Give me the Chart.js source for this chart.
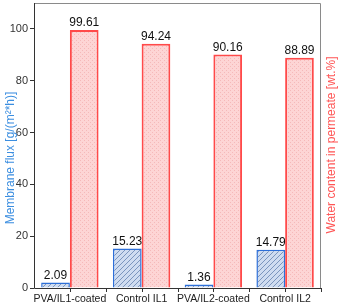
<!DOCTYPE html>
<html>
<head>
<meta charset="utf-8">
<script src="https://cdn.jsdelivr.net/npm/chart.js@4.4.0/dist/chart.umd.min.js"></script>
<style>
  html, body { margin: 0; padding: 0; background: #fff; }
  #wrap { width: 342px; height: 305px; }
</style>
</head>
<body>
<div id="wrap"><canvas id="chart"></canvas></div>
<script>
// data
const categories = ['PVA/IL1-coated', 'Control IL1', 'PVA/IL2-coated', 'Control IL2'];
const fluxValues = [2.09, 15.23, 1.36, 14.79];
const waterValues = [99.61, 94.24, 90.16, 88.89];
const yTicks = [0, 20, 40, 60, 80, 100];

// hatched blue fill
function hatchPattern() {
  const c = document.createElement('canvas');
  c.width = 5; c.height = 5;
  const g = c.getContext('2d');
  g.fillStyle = '#cfdcf0';
  g.fillRect(0, 0, 5, 5);
  g.strokeStyle = '#6683b0';
  g.lineWidth = 0.8;
  g.beginPath();
  g.moveTo(0, 5); g.lineTo(5, 0);
  g.moveTo(-2.5, 2.5); g.lineTo(2.5, -2.5);
  g.moveTo(2.5, 7.5); g.lineTo(7.5, 2.5);
  g.stroke();
  return g.createPattern(c, 'repeat');
}

// dotted pink fill
function dotPattern() {
  const c = document.createElement('canvas');
  c.width = 4; c.height = 4;
  const g = c.getContext('2d');
  g.fillStyle = '#fdd5d5';
  g.fillRect(0, 0, 4, 4);
  g.fillStyle = '#f5b9b9';
  g.fillRect(0, 0, 1, 1);
  g.fillRect(2, 2, 1, 1);
  return g.createPattern(c, 'repeat');
}

const extras = {
  id: 'extras',
  afterDatasetsDraw(chart) {
    const ctx = chart.ctx;
    const a = chart.chartArea;
    ctx.save();
    // value labels
    ctx.font = '12px "Liberation Sans", Arial, sans-serif';
    ctx.fillStyle = '#111';
    ctx.textAlign = 'center';
    ctx.textBaseline = 'bottom';
    chart.data.datasets.forEach((ds, i) => {
      chart.getDatasetMeta(i).data.forEach((bar, j) => {
        ctx.fillText(ds.data[j].toFixed(2), bar.x, bar.y - 1);
      });
    });
    // frame
    ctx.strokeStyle = '#8a8a8a';
    ctx.lineWidth = 1;
    ctx.beginPath();
    ctx.moveTo(a.left, a.top + 0.5);
    ctx.lineTo(a.right - 0.5, a.top + 0.5);
    ctx.lineTo(a.right - 0.5, a.bottom);
    ctx.stroke();
    ctx.strokeStyle = '#333';
    ctx.beginPath();
    ctx.moveTo(a.left + 0.5, a.top);
    ctx.lineTo(a.left + 0.5, a.bottom + 0.5);
    ctx.lineTo(a.right, a.bottom + 0.5);
    ctx.stroke();
    // bottom ticks at centers and boundaries
    const xs = chart.scales.x;
    const half = (xs.getPixelForValue(1) - xs.getPixelForValue(0)) / 2;
    ctx.beginPath();
    categories.forEach((c, i) => {
      const px = Math.round(xs.getPixelForValue(i)) + 0.5;
      ctx.moveTo(px, a.bottom); ctx.lineTo(px, a.bottom + 4);
      const pb = Math.round(px + half) + 0.5;
      ctx.moveTo(pb, a.bottom); ctx.lineTo(pb, a.bottom + 4);
    });
    ctx.stroke();
    // axis titles
    ctx.font = '12px "Liberation Sans", Arial, sans-serif';
    ctx.textBaseline = 'middle';
    ctx.fillStyle = '#3b8ee0';
    ctx.translate(11, 158);
    ctx.rotate(-Math.PI / 2);
    ctx.fillText('Membrane flux [g/(m\u00b2*h)]', 0, 0);
    ctx.setTransform(1, 0, 0, 1, 0, 0);
    ctx.fillStyle = '#ff5555';
    ctx.translate(332, 145);
    ctx.rotate(-Math.PI / 2);
    ctx.fillText('Water content in permeate [wt.%]', 0, 0);
    ctx.restore();
  }
};

new Chart(document.getElementById('chart'), {
  type: 'bar',
  data: {
    labels: categories,
    datasets: [
      {
        label: 'Membrane flux',
        data: fluxValues,
        backgroundColor: hatchPattern(),
        borderColor: '#2d6fd8',
        borderWidth: 1.5,
        categoryPercentage: 0.8,
        barPercentage: 1.0
      },
      {
        label: 'Water content',
        data: waterValues,
        backgroundColor: dotPattern(),
        borderColor: '#ff4a4a',
        borderWidth: 2,
        categoryPercentage: 0.8,
        barPercentage: 1.0
      }
    ]
  },
  options: {
    responsive: true,
    maintainAspectRatio: false,
    animation: false,
    layout: { padding: { top: 3, right: 0, left: 0, bottom: 0 } },
    plugins: { legend: { display: false }, tooltip: { enabled: false } },
    scales: {
      x: {
        grid: { display: false, drawTicks: false },
        border: { display: false },
        ticks: {
          color: '#222',
          font: { size: 10.5, family: '"Liberation Sans", Arial, sans-serif' },
          maxRotation: 0,
          autoSkip: false,
          padding: 5
        },
        afterFit(s) { s.height = 17; s.paddingLeft = 0; s.paddingRight = 0; }
      },
      y: {
        min: 0,
        max: 110,
        afterBuildTicks(s) { s.ticks = yTicks.map(v => ({ value: v })); },
        grid: { drawOnChartArea: false, tickLength: 4, color: '#333' },
        border: { display: false },
        ticks: {
          color: '#333',
          font: { size: 11, family: '"Liberation Sans", Arial, sans-serif' },
          padding: 2
        },
        afterFit(s) { s.width = 34; s.paddingTop = 0; s.paddingBottom = 0; }
      },
      y2: {
        position: 'right',
        min: 0,
        max: 110,
        grid: { display: false },
        border: { display: false },
        ticks: { display: false },
        afterFit(s) { s.width = 21; s.paddingTop = 0; s.paddingBottom = 0; }
      }
    }
  },
  plugins: [extras]
});
</script>
</body>
</html>
